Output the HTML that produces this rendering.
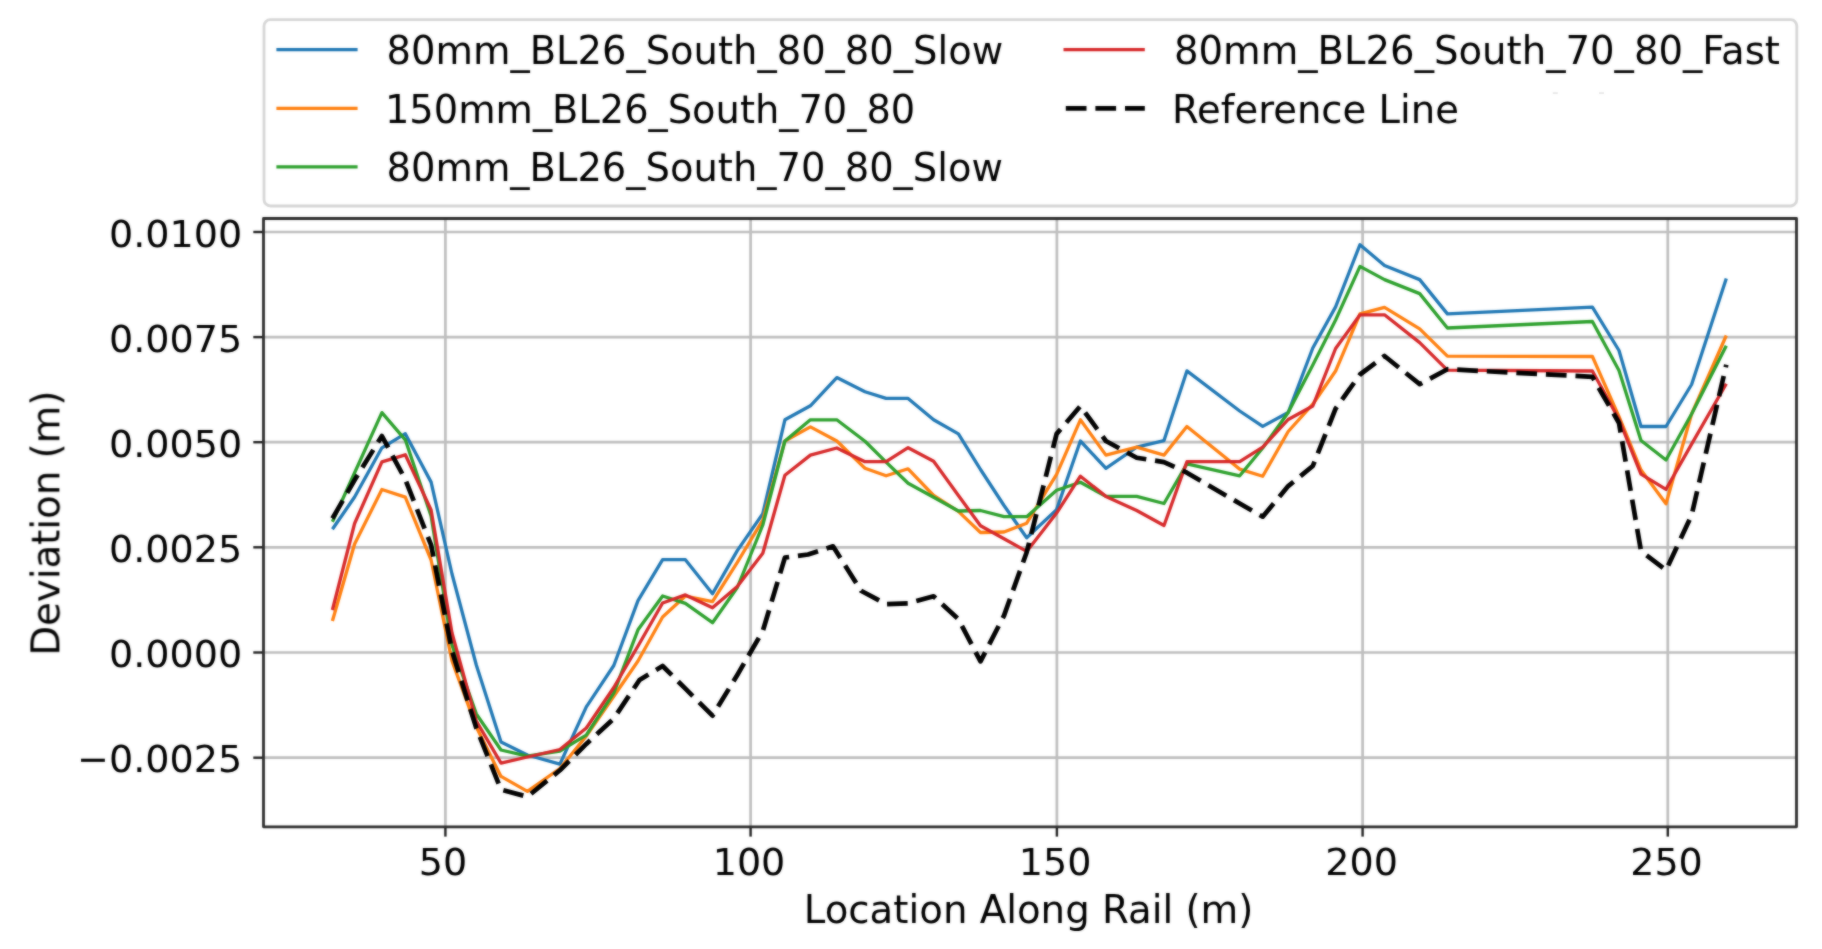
<!DOCTYPE html>
<html lang="en">
<head>
<meta charset="utf-8">
<title>Deviation vs Location Along Rail</title>
<style>
html,body{margin:0;padding:0;background:#fff;}
body{width:1822px;height:949px;overflow:hidden;}
svg{display:block;}
text{font-family:'DejaVu Sans', 'Liberation Sans', sans-serif;fill:#000;}
.tick{font-size:38.1px;}
.leg{font-size:38.5px;}
.lab{font-size:38.7px;}
.grid line{stroke:#bebebe;stroke-width:2.7;}
.ticks line{stroke:#1e1e1e;stroke-width:2.4;}
.series polyline{fill:none;stroke-width:3.3;stroke-linejoin:round;stroke-linecap:butt;}
</style>
</head>
<body>
<svg width="1822" height="949" viewBox="0 0 1822 949">
<rect x="0" y="0" width="1822" height="949" fill="#ffffff"/>
<filter id="soft" x="0" y="0" width="1822" height="949" filterUnits="userSpaceOnUse" color-interpolation-filters="sRGB"><feGaussianBlur in="SourceGraphic" stdDeviation="0.9" result="b"/><feComposite in="SourceGraphic" in2="b" operator="arithmetic" k1="0" k2="0.45" k3="0.55" k4="0"/></filter>
<g filter="url(#soft)">

<g class="grid">
<line x1="445.4" y1="218.5" x2="445.4" y2="826.8"/>
<line x1="750.6" y1="218.5" x2="750.6" y2="826.8"/>
<line x1="1056.9" y1="218.5" x2="1056.9" y2="826.8"/>
<line x1="1362.6" y1="218.5" x2="1362.6" y2="826.8"/>
<line x1="1667.8" y1="218.5" x2="1667.8" y2="826.8"/>
<line x1="263.5" y1="232.0" x2="1796.5" y2="232.0"/>
<line x1="263.5" y1="337.1" x2="1796.5" y2="337.1"/>
<line x1="263.5" y1="442.2" x2="1796.5" y2="442.2"/>
<line x1="263.5" y1="547.3" x2="1796.5" y2="547.3"/>
<line x1="263.5" y1="652.5" x2="1796.5" y2="652.5"/>
<line x1="263.5" y1="757.7" x2="1796.5" y2="757.7"/>
</g>
<clipPath id="axclip"><rect x="263.5" y="218.5" width="1533.0" height="608.3"/></clipPath>
<g class="series" clip-path="url(#axclip)">
<polyline stroke="#1f77b4" points="332.4,529.2 354.6,497.0 381.9,447.8 405.3,433.7 431.1,482.1 452.0,574.0 476.3,665.0 501.0,742.1 527.4,755.0 559.9,764.1 586.3,706.9 613.8,665.5 638.0,600.7 662.6,559.7 685.4,559.7 712.5,593.7 737.3,550.6 762.8,513.6 784.9,419.8 810.4,405.8 836.8,377.6 865.0,391.7 886.1,398.4 908.1,398.4 933.6,419.8 958.4,433.9 980.5,469.5 1004.0,505.5 1026.7,537.8 1056.6,509.6 1080.4,441.0 1105.9,468.3 1136.7,447.1 1164.0,440.6 1186.9,370.9 1239.7,411.0 1262.7,426.4 1288.2,412.5 1312.8,348.0 1335.6,306.9 1360.0,244.7 1384.5,265.5 1419.7,279.6 1447.4,313.9 1592.4,307.2 1619.0,350.5 1641.0,426.5 1666.0,426.5 1691.6,384.5 1726.3,278.4"/>
<polyline stroke="#ff7f0e" points="332.4,621.0 354.6,544.0 381.9,489.5 405.3,497.1 431.1,560.0 452.0,661.0 476.3,727.0 501.0,776.4 527.4,791.4 559.9,768.5 586.3,736.0 613.8,696.3 638.0,661.0 662.6,617.0 685.4,596.0 712.5,601.6 737.3,562.4 762.8,520.0 784.9,441.0 810.4,426.9 836.8,441.0 865.0,468.3 886.1,475.8 908.1,468.8 933.6,495.5 958.4,511.4 980.5,532.5 1004.0,532.0 1026.7,523.2 1056.6,474.4 1080.4,419.8 1105.9,455.1 1136.7,447.1 1164.0,455.1 1186.9,426.5 1239.7,469.1 1262.7,476.3 1288.2,431.5 1312.8,404.2 1335.6,371.0 1360.0,313.9 1384.5,307.4 1419.7,328.9 1447.4,356.1 1592.4,356.5 1619.0,416.7 1641.0,470.1 1666.0,503.8 1691.6,414.0 1726.3,335.5"/>
<polyline stroke="#2ca02c" points="332.4,521.8 354.6,472.8 381.9,412.6 405.3,439.8 431.1,516.0 452.0,645.0 476.3,713.9 501.0,750.0 527.4,756.2 559.9,751.0 586.3,735.1 613.8,692.8 638.0,629.8 662.6,596.0 685.4,603.4 712.5,622.7 737.3,587.5 762.8,525.0 784.9,441.0 810.4,419.8 836.8,419.8 865.0,441.3 886.1,462.1 908.1,483.2 933.6,497.3 958.4,511.0 980.5,510.5 1004.0,516.7 1026.7,516.7 1056.6,490.3 1080.4,482.3 1105.9,496.4 1136.7,496.4 1164.0,503.5 1186.9,463.9 1239.7,475.8 1262.7,448.0 1288.2,412.5 1312.8,365.0 1335.6,320.0 1360.0,266.4 1384.5,279.6 1419.7,293.6 1447.4,328.0 1592.4,321.5 1619.0,370.5 1641.0,440.5 1666.0,460.0 1691.6,414.0 1726.3,345.7"/>
<polyline stroke="#d62728" points="332.4,610.0 354.6,523.5 381.9,461.9 405.3,454.8 431.1,510.0 452.0,633.0 476.3,721.0 501.0,763.2 527.4,757.0 559.9,749.5 586.3,728.0 613.8,687.5 638.0,646.0 662.6,603.0 685.4,594.9 712.5,607.8 737.3,586.6 762.8,553.2 784.9,475.3 810.4,455.1 836.8,448.0 865.0,461.7 886.1,461.7 908.1,447.7 933.6,461.2 958.4,495.5 980.5,525.8 1004.0,538.7 1026.7,551.4 1056.6,513.1 1080.4,476.2 1105.9,496.4 1136.7,510.5 1164.0,525.5 1186.9,461.7 1239.7,461.7 1262.7,447.2 1288.2,419.5 1312.8,406.0 1335.6,348.5 1360.0,314.8 1384.5,314.8 1419.7,342.6 1447.4,370.2 1592.4,371.0 1619.0,419.5 1641.0,474.2 1666.0,489.3 1691.6,444.1 1726.3,383.8"/>
<polyline stroke="#000000" style="stroke-width:4.7" stroke-dasharray="20.7 8.9" points="332.4,518.5 354.6,480.0 381.9,436.0 405.3,479.5 431.1,545.0 452.0,651.0 476.3,728.0 501.0,789.6 527.4,796.7 559.9,770.3 586.3,743.9 613.8,718.5 639.5,680.0 662.6,666.0 685.4,688.7 712.5,715.7 737.3,675.0 762.8,631.0 784.9,557.6 808.0,554.5 833.0,546.3 861.0,590.7 886.1,604.2 908.1,603.3 933.6,596.3 958.4,619.1 980.5,661.4 1004.0,615.6 1026.7,552.2 1056.6,433.9 1080.4,406.1 1105.9,441.0 1136.7,457.7 1164.0,462.1 1186.9,472.7 1239.7,503.5 1262.7,516.7 1288.2,486.1 1312.8,466.0 1335.6,408.6 1360.0,374.5 1384.5,356.0 1419.7,384.2 1447.4,369.2 1592.4,376.8 1619.0,423.0 1641.0,551.0 1666.0,570.1 1691.6,515.3 1726.3,364.7"/>
</g>
<g class="ticks">
<line x1="445.4" y1="826.8" x2="445.4" y2="836.6"/>
<line x1="750.6" y1="826.8" x2="750.6" y2="836.6"/>
<line x1="1056.9" y1="826.8" x2="1056.9" y2="836.6"/>
<line x1="1362.6" y1="826.8" x2="1362.6" y2="836.6"/>
<line x1="1667.8" y1="826.8" x2="1667.8" y2="836.6"/>
<line x1="253.3" y1="232.0" x2="263.5" y2="232.0"/>
<line x1="253.3" y1="337.1" x2="263.5" y2="337.1"/>
<line x1="253.3" y1="442.2" x2="263.5" y2="442.2"/>
<line x1="253.3" y1="547.3" x2="263.5" y2="547.3"/>
<line x1="253.3" y1="652.5" x2="263.5" y2="652.5"/>
<line x1="253.3" y1="757.7" x2="263.5" y2="757.7"/>
</g>
<rect x="263.5" y="218.5" width="1533.0" height="608.3" fill="none" stroke="#2b2b2b" stroke-width="2.8" stroke-linejoin="round"/>
<text class="tick" x="443.05" y="874.5" text-anchor="middle">50</text>
<text class="tick" x="749.0" y="874.5" text-anchor="middle">100</text>
<text class="tick" x="1055.2" y="874.5" text-anchor="middle">150</text>
<text class="tick" x="1361.7" y="874.5" text-anchor="middle">200</text>
<text class="tick" x="1666.5" y="874.5" text-anchor="middle">250</text>
<text class="tick" x="242.2" y="246.6" text-anchor="end">0.0100</text>
<text class="tick" x="242.2" y="351.7" text-anchor="end">0.0075</text>
<text class="tick" x="242.2" y="456.8" text-anchor="end">0.0050</text>
<text class="tick" x="242.2" y="561.9" text-anchor="end">0.0025</text>
<text class="tick" x="242.2" y="667.1" text-anchor="end">0.0000</text>
<text class="tick" x="242.2" y="772.3" text-anchor="end">−0.0025</text>
<text class="lab" x="1028.6" y="923.2" text-anchor="middle">Location Along Rail (m)</text>
<text class="lab" transform="translate(59.4 523.2) rotate(-90)" text-anchor="middle">Deviation (m)</text>
<rect x="264" y="19.6" width="1532.8" height="186.4" rx="6.5" ry="6.5" fill="#ffffff" stroke="#d6d6d6" stroke-width="2.8"/>
<rect x="1552.8" y="92.2" width="5" height="1.8" fill="#e6e6e6"/><rect x="1599" y="92.2" width="5" height="1.8" fill="#e6e6e6"/>
<line x1="276.4" y1="49.7" x2="357.6" y2="49.7" stroke="#1f77b4" stroke-width="3.3"/>
<text x="386.51" y="63.6" style="font-size:38.48px">80mm_BL26_South_80_80_Slow</text>
<line x1="276.4" y1="108.3" x2="357.6" y2="108.3" stroke="#ff7f0e" stroke-width="3.3"/>
<text x="384.98" y="122.6" style="font-size:38.36px">150mm_BL26_South_70_80</text>
<line x1="276.4" y1="166.9" x2="357.6" y2="166.9" stroke="#2ca02c" stroke-width="3.3"/>
<text x="386.51" y="180.9" style="font-size:38.46px">80mm_BL26_South_70_80_Slow</text>
<line x1="1063.5" y1="49.7" x2="1144.8" y2="49.7" stroke="#d62728" stroke-width="3.3"/>
<text x="1173.90" y="63.6" style="font-size:38.62px">80mm_BL26_South_70_80_Fast</text>
<line x1="1065.8" y1="108.3" x2="1144.8" y2="108.3" stroke="#000000" stroke-width="4.8" stroke-dasharray="20.7 8.9"/>
<text x="1172.04" y="122.6" style="font-size:38.59px">Reference Line</text>
</g>
</svg>
</body>
</html>
